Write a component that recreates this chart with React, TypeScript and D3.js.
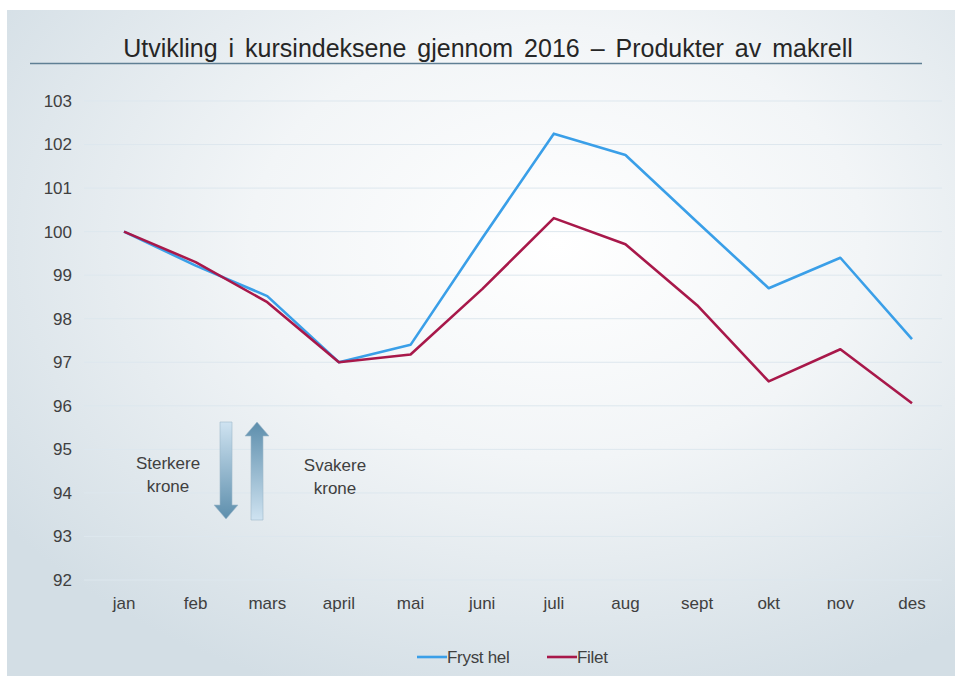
import React, { useRef, useEffect } from "react";
import * as d3 from "d3";

const months = ["jan", "feb", "mars", "april", "mai", "juni", "juli", "aug", "sept", "okt", "nov", "des"];
const frystHel = [100, 99.22, 98.52, 97.0, 97.4, 99.85, 102.25, 101.76, 100.22, 98.7, 99.4, 97.53];
const filet = [100, 99.3, 98.38, 97.0, 97.18, 98.68, 100.31, 99.71, 98.31, 96.56, 97.3, 96.06];
const yTicks = [92, 93, 94, 95, 96, 97, 98, 99, 100, 101, 102, 103];

const seriesNames = ["Fryst hel", "Filet"];
const seriesColors = ["#3a9fe8", "#a8184a"];

export default function App() {
  const svgRef = useRef<SVGSVGElement>(null);

  useEffect(() => {
    const svg = d3.select(svgRef.current);
    svg.selectAll("*").remove();

    const width = 955;
    const height = 677;

    const defs = svg.append("defs");
    const bg = defs
      .append("radialGradient")
      .attr("id", "bg")
      .attr("cx", "0.58")
      .attr("cy", "0.35")
      .attr("r", "0.72");
    bg.append("stop").attr("offset", "0%").attr("stop-color", "#ffffff");
    bg.append("stop").attr("offset", "45%").attr("stop-color", "#f2f5f7");
    bg.append("stop").attr("offset", "100%").attr("stop-color", "#d3dee5");

    const arrowGrad = (id: string, up: boolean) => {
      const g = defs
        .append("linearGradient")
        .attr("id", id)
        .attr("x1", 0)
        .attr("y1", 0)
        .attr("x2", 0)
        .attr("y2", 1);
      g.append("stop").attr("offset", "0%").attr("stop-color", up ? "#5d8eac" : "#cfe3f1");
      g.append("stop").attr("offset", "100%").attr("stop-color", up ? "#cfe3f1" : "#5d8eac");
    };
    arrowGrad("downArrow", false);
    arrowGrad("upArrow", true);

    svg
      .append("rect")
      .attr("x", 7)
      .attr("y", 10)
      .attr("width", width - 7)
      .attr("height", height - 11)
      .attr("fill", "url(#bg)");

    const font = "Liberation Sans, Arial, sans-serif";

    // Title
    svg
      .append("text")
      .attr("x", 488)
      .attr("y", 57)
      .attr("text-anchor", "middle")
      .attr("font-family", font)
      .attr("font-size", 25)
      .attr("word-spacing", 4)
      .attr("fill", "#262626")
      .text("Utvikling i kursindeksene gjennom 2016 – Produkter av makrell");

    svg
      .append("line")
      .attr("x1", 30)
      .attr("x2", 922)
      .attr("y1", 63.5)
      .attr("y2", 63.5)
      .attr("stroke", "#5f7f94")
      .attr("stroke-width", 1.3);

    const x = d3.scalePoint<string>().domain(months).range([124, 912]);
    const y = d3.scaleLinear().domain([92, 103]).range([580, 101]);

    // Grid
    svg
      .append("g")
      .selectAll("line")
      .data(yTicks)
      .join("line")
      .attr("x1", 84)
      .attr("x2", 942)
      .attr("y1", (d) => y(d))
      .attr("y2", (d) => y(d))
      .attr("stroke", "#dde7ee")
      .attr("stroke-width", 1);

    // Y labels
    svg
      .append("g")
      .selectAll("text")
      .data(yTicks)
      .join("text")
      .attr("x", 72)
      .attr("y", (d) => y(d))
      .attr("dy", "0.35em")
      .attr("text-anchor", "end")
      .attr("font-family", font)
      .attr("font-size", 17)
      .attr("fill", "#404040")
      .text((d) => d);

    // X labels
    svg
      .append("g")
      .selectAll("text")
      .data(months)
      .join("text")
      .attr("x", (d) => x(d)!)
      .attr("y", 609)
      .attr("text-anchor", "middle")
      .attr("font-family", font)
      .attr("font-size", 17)
      .attr("fill", "#404040")
      .text((d) => d);

    // Lines
    const line = d3
      .line<number>()
      .x((_, i) => x(months[i])!)
      .y((d) => y(d));

    [frystHel, filet].forEach((vals, i) => {
      svg
        .append("path")
        .datum(vals)
        .attr("d", line)
        .attr("fill", "none")
        .attr("stroke", seriesColors[i])
        .attr("stroke-width", 2.6)
        .attr("stroke-linejoin", "round");
    });

    // Arrows
    const arrow = (cx: number, top: number, bottom: number, up: boolean, fillId: string) => {
      const sw = 6;
      const hw = 12;
      const hh = 14;
      let pts: [number, number][];
      if (up) {
        pts = [
          [cx, top],
          [cx + hw, top + hh],
          [cx + sw, top + hh],
          [cx + sw, bottom],
          [cx - sw, bottom],
          [cx - sw, top + hh],
          [cx - hw, top + hh],
        ];
      } else {
        pts = [
          [cx - sw, top],
          [cx + sw, top],
          [cx + sw, bottom - hh],
          [cx + hw, bottom - hh],
          [cx, bottom],
          [cx - hw, bottom - hh],
          [cx - sw, bottom - hh],
        ];
      }
      svg
        .append("polygon")
        .attr("points", pts.map((p) => p.join(",")).join(" "))
        .attr("fill", `url(#${fillId})`)
        .attr("stroke", "#9fb9cb")
        .attr("stroke-width", 0.6);
    };
    arrow(226, 422, 519, false, "downArrow");
    arrow(257, 422, 520, true, "upArrow");

    const note = (cx: number, yy: number, lines: string[]) => {
      svg
        .append("text")
        .attr("x", cx)
        .attr("y", yy)
        .attr("text-anchor", "middle")
        .attr("font-family", font)
        .attr("font-size", 17)
        .attr("fill", "#404040")
        .selectAll("tspan")
        .data(lines)
        .join("tspan")
        .attr("x", cx)
        .attr("dy", (_, i) => (i === 0 ? 0 : 23))
        .text((d) => d);
    };
    note(168, 469, ["Sterkere", "krone"]);
    note(335, 471, ["Svakere", "krone"]);

    // Legend
    const legend = svg.append("g");
    const legendX = [417, 547];
    seriesNames.forEach((name, i) => {
      legend
        .append("line")
        .attr("x1", legendX[i])
        .attr("x2", legendX[i] + 30)
        .attr("y1", 657)
        .attr("y2", 657)
        .attr("stroke", seriesColors[i])
        .attr("stroke-width", 2.6);
      legend
        .append("text")
        .attr("x", legendX[i] + 30)
        .attr("y", 657)
        .attr("dy", "0.35em")
        .attr("font-family", font)
        .attr("font-size", 17)
        .attr("letter-spacing", -0.3)
        .attr("fill", "#404040")
        .text(name);
    });
  }, []);

  return (
    <svg
      ref={svgRef}
      width={955}
      height={677}
      style={{ position: "absolute", left: 0, top: 0, display: "block" }}
    />
  );
}
